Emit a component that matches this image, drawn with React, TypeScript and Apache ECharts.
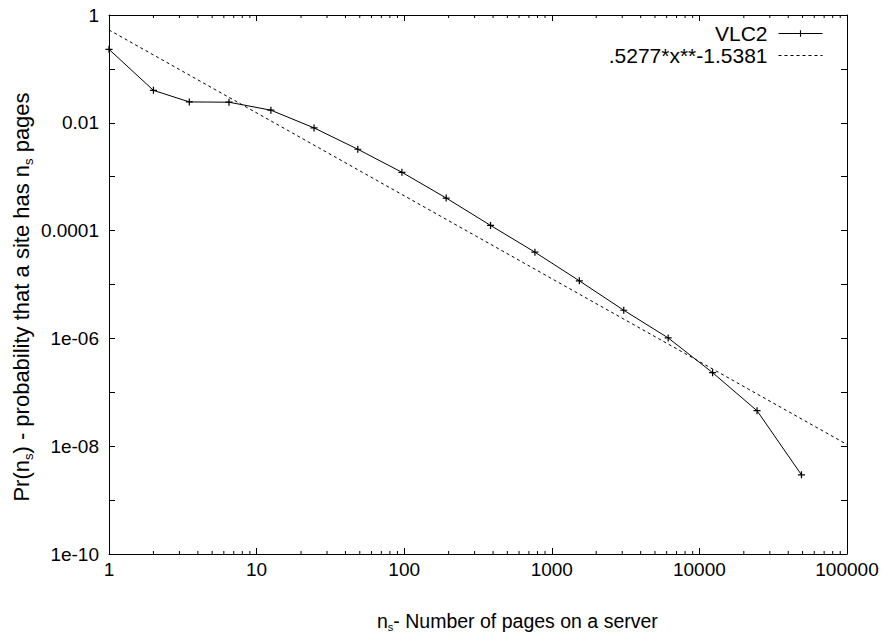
import React, { useEffect, useRef } from "react";
import * as echarts from "echarts";

const xValues = [1, 2, 3.5, 6.5, 12.5, 24.5, 48.5, 96.5, 192.5, 384.5, 768.5, 1536.5, 3072.5, 6144.5, 12288.5, 24576.5, 49152.5];
const vlc2 = [0.2305, 0.04, 0.0244, 0.0241, 0.01715, 0.00804, 0.00323, 0.001208, 0.000402, 0.000125, 3.98e-5, 1.17e-5, 3.33e-6, 1.02e-6, 2.31e-7, 4.55e-8, 2.94e-9];
const fitX = [1, 100000];
const fitY = [0.5277, 1.076e-8];
const xTickLabels = ["1", "10", "100", "1000", "10000", "100000"];
// labels only on every second decade (exponent -10 .. 0)
const yTickLabels = ["1e-10", "", "1e-08", "", "1e-06", "", "0.0001", "", "0.01", "", "1"];
const minorMantissas = [2, 3, 4, 5, 6, 7, 8, 9];

const FONT = "'Liberation Sans', Arial, Helvetica, sans-serif";
const PLUS = "path://M-0.7,-4H0.7V-0.7H4V0.7H0.7V4H-0.7V0.7H-4V-0.7H-0.7Z";

export default function App() {
  const ref = useRef<HTMLDivElement>(null);
  useEffect(() => {
    if (!ref.current) return;
    const chart = echarts.init(ref.current, null, { renderer: "svg" });
    const minorTicks: number[][] = [];
    for (let d = 0; d < 5; d++) {
      for (const m of minorMantissas) minorTicks.push([m * Math.pow(10, d), 1e-5]);
    }
    const xFmt = (v: number) => xTickLabels[Math.round(Math.log10(v))] ?? "";
    const yFmt = (v: number) => yTickLabels[Math.round(Math.log10(v)) + 10] ?? "";
    const axisCommon = {
      axisLine: { lineStyle: { color: "#000", width: 1 } },
      splitLine: { show: false },
    };
    const legendText = { fontSize: 21, fontFamily: FONT, color: "#000", padding: [0, 6, 0, 0] };
    chart.setOption({
      animation: false,
      backgroundColor: "#fff",
      textStyle: { fontFamily: FONT, color: "#000" },
      grid: { left: 109, right: 44, top: 15, bottom: 87 },
      xAxis: [
        {
          type: "log", logBase: 10, min: 1, max: 100000, position: "bottom",
          ...axisCommon,
          axisTick: { inside: true, length: 6, lineStyle: { color: "#000" } },
          axisLabel: { fontSize: 19, color: "#000", fontFamily: FONT, margin: 6, formatter: xFmt },
        },
        {
          type: "log", logBase: 10, min: 1, max: 100000, position: "top",
          ...axisCommon,
          axisTick: { inside: true, length: 6, lineStyle: { color: "#000" } },
          axisLabel: { show: false },
        },
      ],
      yAxis: [
        {
          type: "log", logBase: 10, min: 1e-10, max: 1, interval: 1, position: "left",
          ...axisCommon,
          axisTick: { inside: true, length: 6, interval: 0, lineStyle: { color: "#000" } },
          axisLabel: { fontSize: 19, color: "#000", fontFamily: FONT, margin: 10, formatter: yFmt },
        },
        {
          type: "log", logBase: 10, min: 1e-10, max: 1, interval: 1, position: "right",
          ...axisCommon,
          axisTick: { inside: true, length: 6, interval: 0, lineStyle: { color: "#000" } },
          axisLabel: { show: false },
        },
      ],
      legend: [
        {
          data: ["VLC2"], right: 63, top: 18, align: "right", orient: "vertical",
          itemWidth: 44, itemHeight: 8, selectedMode: false,
          lineStyle: { width: 1 },
          textStyle: legendText,
        },
        {
          data: [".5277*x**-1.5381"], right: 63, top: 40, align: "right", orient: "vertical",
          itemWidth: 44, itemHeight: 8, selectedMode: false,
          lineStyle: { width: 1 },
          itemStyle: { opacity: 0 },
          textStyle: legendText,
        },
      ],
      graphic: [
        {
          type: "text", left: 377, top: 611,
          style: {
            text: "{n|n}{sub|s}{n|- Number of pages on a server}",
            rich: {
              n: { fontSize: 19.5, fontFamily: FONT, fill: "#000" },
              sub: { fontSize: 11, fontFamily: FONT, fill: "#000", padding: [12, 0, 0, 0] },
            },
          },
        },
        {
          type: "text", x: 21, y: 297, rotation: Math.PI / 2,
          style: {
            text: "{n|Pr(n}{sub|s}{n|) - probability that a site has n}{sub|s}{n| pages}",
            align: "center", verticalAlign: "middle",
            rich: {
              n: { fontSize: 22, fontFamily: FONT, fill: "#000" },
              sub: { fontSize: 13, fontFamily: FONT, fill: "#000", padding: [14, 0, 0, 0] },
            },
          },
        },
      ],
      series: [
        {
          name: "VLC2", type: "line", xAxisIndex: 0, yAxisIndex: 0,
          data: xValues.map((x, i) => [x, vlc2[i]]),
          symbol: PLUS, symbolSize: 7, showSymbol: true,
          lineStyle: { color: "#000", width: 1 },
          itemStyle: { color: "#000" },
        },
        {
          name: ".5277*x**-1.5381", type: "line", xAxisIndex: 0, yAxisIndex: 0,
          data: fitX.map((x, i) => [x, fitY[i]]),
          symbol: "none",
          lineStyle: { color: "#000", width: 1, type: [3, 3] },
          itemStyle: { color: "#000" },
        },
        {
          name: "minor", type: "custom", xAxisIndex: 0, yAxisIndex: 0, silent: true,
          data: minorTicks,
          renderItem: (params: any, api: any) => {
            const v = api.value(0);
            const b = api.coord([v, 1e-10]);
            const t = api.coord([v, 1]);
            return {
              type: "group",
              children: [
                { type: "line", shape: { x1: b[0], y1: b[1], x2: b[0], y2: b[1] - 3 }, style: { stroke: "#000", lineWidth: 1 } },
                { type: "line", shape: { x1: t[0], y1: t[1], x2: t[0], y2: t[1] + 3 }, style: { stroke: "#000", lineWidth: 1 } },
              ],
            };
          },
        },
      ],
    });
    return () => chart.dispose();
  }, []);
  return <div ref={ref} style={{ position: "fixed", left: 0, top: 0, width: 891, height: 641 }} />;
}
